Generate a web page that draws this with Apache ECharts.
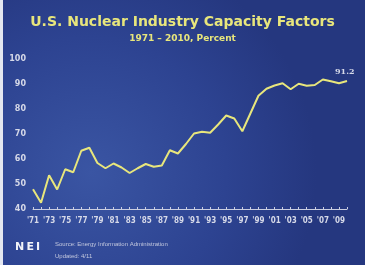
<!DOCTYPE html>
<html>
<head>
<meta charset="utf-8">
<script src="https://cdn.jsdelivr.net/npm/echarts@6/dist/echarts.min.js"></script>
<style>
  html, body { margin: 0; padding: 0; }
  #chart { width: 365px; height: 265px; }
</style>
</head>
<body>
<div id="chart"></div>
<script>
// years 1971 - 2010
const years = [];
for (let y = 1971; y <= 2010; y++) years.push(y);

const capacityFactor = [
  47.9, 42.5, 53.5, 47.8, 55.9, 54.7, 63.3, 64.5, 58.4, 56.3,
  58.2, 56.6, 54.4, 56.3, 58.0, 56.9, 57.4, 63.5, 62.2, 66.0,
  70.2, 70.9, 70.5, 73.8, 77.4, 76.2, 71.1, 78.2, 85.3, 88.1,
  89.4, 90.3, 87.9, 90.1, 89.3, 89.6, 91.8, 91.1, 90.3, 91.2
];

const yTicks = [40, 50, 60, 70, 80, 90, 100];

const yellow = '#e8e67c';
const textGray = '#d6d9e8';

const chart = echarts.init(document.getElementById('chart'));

const option = {
  backgroundColor: new echarts.graphic.RadialGradient(0.25, 0.65, 0.85, [
    { offset: 0, color: '#3a55a3' },
    { offset: 0.6, color: '#2d4391' },
    { offset: 1, color: '#25377f' }
  ]),
  animation: false,
  title: [
    {
      text: 'U.S. Nuclear Industry Capacity Factors',
      left: 'center',
      top: 10,
      textStyle: {
        color: yellow,
        fontFamily: 'DejaVu Sans',
        fontWeight: 'bold',
        fontSize: 14
      }
    },
    {
      text: '1971 \u2013 2010, Percent',
      left: 'center',
      top: 29,
      textStyle: {
        color: yellow,
        fontFamily: 'DejaVu Sans',
        fontWeight: 'bold',
        fontSize: 9
      }
    }
  ],
  grid: {
    left: 33,
    right: 18,
    top: 59,
    bottom: 56
  },
  xAxis: {
    type: 'category',
    data: years,
    boundaryGap: false,
    axisLine: { lineStyle: { color: '#c9cde0', width: 1 } },
    axisTick: {
      show: true,
      inside: true,
      length: 2,
      interval: 0,
      lineStyle: { color: '#c9cde0' }
    },
    axisLabel: {
      interval: 1,
      margin: 8,
      color: textGray,
      fontFamily: 'DejaVu Sans Condensed',
      fontWeight: 'bold',
      fontSize: 8,
      formatter: v => "'" + String(v).slice(2)
    },
    splitLine: { show: false }
  },
  yAxis: {
    type: 'value',
    min: yTicks[0],
    max: yTicks[yTicks.length - 1],
    interval: 10,
    axisLine: { show: false },
    axisTick: { show: false },
    splitLine: { show: false },
    axisLabel: {
      margin: 7,
      color: textGray,
      fontFamily: 'DejaVu Sans',
      fontWeight: 'bold',
      fontSize: 8
    }
  },
  series: [
    {
      type: 'line',
      data: capacityFactor,
      showSymbol: false,
      symbol: 'none',
      lineStyle: { color: yellow, width: 2 },
      endLabel: {
        show: true,
        offset: [-12, -9],
        distance: 0,
        color: textGray,
        fontFamily: 'DejaVu Serif',
        fontWeight: 'bold',
        fontSize: 8,
        formatter: p => String(p.value)
      }
    }
  ],
  graphic: [
    {
      type: 'rect',
      shape: { x: 0, y: 0, width: 3, height: 265 },
      style: { fill: '#e4e7f0' }
    },
    {
      type: 'text',
      left: 15,
      top: 242,
      style: {
        text: 'N\u2009E\u2009I',
        fill: '#f2f3f8',
        font: 'bold 11px "DejaVu Sans"'
      }
    },
    {
      type: 'text',
      left: 55,
      top: 241,
      style: {
        text: 'Source: Energy Information Administration',
        fill: '#c3c8de',
        font: '6px "Liberation Sans"'
      }
    },
    {
      type: 'text',
      left: 55,
      top: 253,
      style: {
        text: 'Updated: 4/11',
        fill: '#c3c8de',
        font: '6px "Liberation Sans"'
      }
    }
  ]
};

chart.setOption(option);
</script>
</body>
</html>
